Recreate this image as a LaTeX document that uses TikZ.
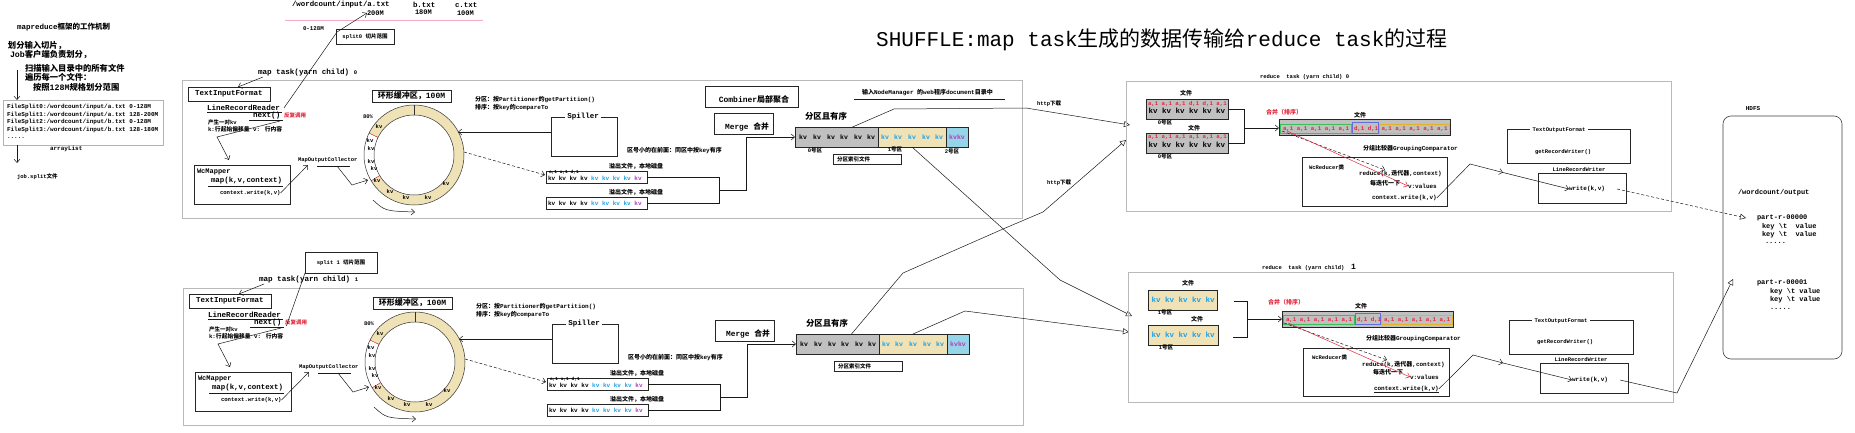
\documentclass[tikz,border=0pt]{standalone}
\usepackage{fontspec}
\setmainfont{Liberation Mono}
\newfontfamily\cjk{Noto Sans CJK SC}
\newcommand\zh[1]{{\cjk #1}}
\usetikzlibrary{arrows.meta}
\definecolor{ringtan}{RGB}{238,226,182}
\definecolor{kvblue}{RGB}{30,160,230}
\definecolor{kvpurple}{RGB}{180,60,190}
\definecolor{lblue}{RGB}{150,212,232}
\definecolor{pgray}{RGB}{192,192,192}
\definecolor{redt}{RGB}{225,40,60}
\definecolor{pinkl}{RGB}{245,170,200}
\definecolor{greenb}{RGB}{60,190,90}
\definecolor{blueb}{RGB}{100,110,220}
\definecolor{yellowb}{RGB}{225,180,40}
\newcommand\rbox[6]{\node[#6,inner sep=0pt,outer sep=0pt,minimum width={#4-#2},minimum height={#5-#3}] (#1) at ({(#2+#4)/2},{(#3+#5)/2}) {};}
\tikzset{
  lab/.style={font=\bfseries\fontsize{#1}{#1}\selectfont, inner sep=0pt, outer sep=0pt, anchor=west},
  labc/.style={font=\bfseries\fontsize{#1}{#1}\selectfont, inner sep=0pt, outer sep=0pt},
  ln/.style={draw=gray!20!black, line width=0.5pt},
  arr/.style={ln, -{Straight Barb[length=3.5pt,width=6pt]}},
  tarr/.style={ln, -{Triangle[open,length=6pt,width=6pt]}},
  bx/.style={draw=gray!30!black, line width=0.6pt},
  bigbx/.style={draw=gray!55, line width=1pt},
}
\newcommand\maptask[2]{%
\rbox{mt#1}{182}{81}{1022}{218}{bigbx}
\node[lab=7.6] (mtl#1) at (258,73) {map task(yarn child) {\fontsize{5.5}{5.5}\selectfont #2}};
\rbox{tif#1}{188}{87}{270}{101}{bx}
\node[labc=7.5] (tift#1) at (tif#1) {TextInputFormat};
\draw[arr] (263,77) -- (238,87);
\node[lab=7.6] (lrr#1) at (207,108) {LineRecordReader};
\draw[ln] (207,112.5) -- (282,112.5);
\node[lab=7.6] (nx#1) at (253,116) {next()};
\draw[ln] (249,120.5) -- (283,120.5);
\node[lab=5.5,text=redt] (ff#1) at (284,115) {\zh{反复调用}};
\node[lab=5.5] (kva#1) at (208,122) {\zh{产生一对}kv};
\node[lab=5.8] (kvb#1) at (208,129) {k:\zh{行起始偏移量} v: \zh{行内容}};
\rbox{wm#1}{194}{165}{290}{204}{bx}
\node[lab=7] (wmt#1) at (197,172) {WcMapper};
\node[lab=7.4] (wmm#1) at (211,181) {map(k,v,context)};
\draw[ln] (208,186) -- (283,186);
\node[lab=5.6] (wmc#1) at (220,193) {context.write(k,v)};
\coordinate (bk#1) at (217,137);
\draw[arr] (280,121) -- (bk#1) -- (229,160);
\node[lab=5.5] (moc#1) at (298,160) {MapOutputCollector};
\draw[arr] (wmc#1.east) -- (308,165);
\draw[ln] (317,166) -- (350,166);
\draw[arr] (337,166) -- (352,185) -- (368,180);
% ring buffer
\coordinate (rc#1) at (414,155);
\begin{scope}[shift={(rc#1)}]
  \fill[ringtan,even odd rule] (0,0) circle[radius=50] (0,0) circle[radius=40];
  \fill[white] (149:50) arc[start angle=149,end angle=206,radius=50] -- (206:40) arc[start angle=206,end angle=149,radius=40] -- cycle;
  \draw[gray!40!black, line width=0.5pt] (0,0) circle[radius=50] (0,0) circle[radius=40];
  \draw[red!80!black, line width=0.4pt] (149:40) -- (149:50) (206:40) -- (206:50);
  \draw[gray!40!black, line width=0.5pt] (270:40) -- (270:50);
  \foreach \dx/\dy [count=\i] in {-35/-28,-44/-14,-43/-6,-43/7,-40/14,-37/26,-24/37,-8/43,14/43,32/29}
    \node[labc=5.5] (rk#1\i) at (\dx,\dy) {kv};
\end{scope}
\rbox{rb#1}{372}{90}{451}{102}{bx}
\node[labc=8] (rbt#1) at (rb#1) {\zh{环形缓冲区，}100M};
\node[labc=5.5] (p80#1) at (368,117) {80\%};
\draw[arr] (373,200) .. controls (385,211) .. (415,212);
\node[lab=6] (pa#1) at (475,100) {\zh{分区：按}Partitioner\zh{的}getPartition()};
\node[lab=6] (pb#1) at (475,108) {\zh{排序：按}key\zh{的}compareTo};
\rbox{spl#1}{551}{117}{617}{156}{bx}
\node[labc=7.5,fill=white,inner xsep=2pt] (splt#1) at (583,117) {Spiller};
\coordinate (sin#1) at (551,132);
\draw[arr] (sin#1) -- (458,132);
\draw[arr, densely dashed] (464,152) -- (545,175);
\node[lab=6] (qh#1) at (627,151) {\zh{区号小的在前面：同区中按}key\zh{有序}};
\node[lab=6] (yca#1) at (609,166) {\zh{溢出文件，本地磁盘}};
\rbox{sa#1}{546}{171}{647}{183}{bx}
\node[lab=4.5] (saa#1) at (549,172.5) {a,1 a,1 d,1};
\node[lab=6] (sak#1) at (548,178) {kv kv kv kv \textcolor{kvblue}{kv kv kv kv} \textcolor{kvpurple}{kv}};
\node[lab=6] (ycb#1) at (609,192) {\zh{溢出文件，本地磁盘}};
\rbox{sb#1}{546}{197}{647}{209}{bx}
\node[lab=6] (sbk#1) at (548,203) {kv kv kv kv \textcolor{kvblue}{kv kv kv kv} \textcolor{kvpurple}{kv}};
\draw[ln] (sa#1.east) -- (719,177) -- (719,203) -- (sb#1.east);
\rbox{mg#1}{714}{113}{773}{134}{bx}
\node[labc=7.8] (mgt#1) at (747,127) {Merge \zh{合并}};
\node[lab=8.4] (fq#1) at (805,116) {\zh{分区且有序}};
\rbox{pg#1}{795}{127}{878}{147}{bx,fill=pgray,line width=0.8pt}
\rbox{pt#1}{878}{127}{946}{147}{bx,fill=ringtan,line width=0.8pt}
\rbox{pb#1}{946}{127}{968}{147}{bx,fill=lblue,line width=0.8pt}
\foreach \x [count=\i] in {803,817,831,844,858,871} \node[labc=6.5] (pgk#1\i) at (\x,137) {kv};
\foreach \x [count=\i] in {885,898,912,926,939} \node[labc=6.5,text=kvblue] (ptk#1\i) at (\x,137) {kv};
\node[labc=6.5,text=kvpurple] (pbk#1) at (957,137) {kvkv};
\draw[arr] (719,190) -- (746,190) -- (746,137) -- (pg#1.west);
\rbox{idx#1}{833}{154}{901}{164}{bx}
\node[lab=5.5] (idxt#1) at (837,159) {\zh{分区索引文件}};
}
\begin{document}
\begin{tikzpicture}[x=1pt,y=-1pt]
\useasboundingbox (0,0) rectangle (1855,433);
\fill[white] (0,0) rectangle (1855,433);
% ---------- left column
\node[lab=7.5] (mrt) at (17,27) {mapreduce\zh{框架的工作机制}};
\node[lab=8.3] (la) at (8,46) {\zh{划分输入切片，}};
\node[lab=8.3] (lb) at (10,55) {Job\zh{客户端负责划分，}};
\node[lab=8.3] (lc) at (25,68) {\zh{扫描输入目录中的所有文件}};
\node[lab=8.3] (ld) at (25,77) {\zh{遍历每一个文件：}};
\node[lab=8.3] (le) at (33,87) {\zh{按照}128M\zh{规格划分范围}};
\rbox{splits}{3}{100}{163}{145}{draw=gray!60,line width=0.8pt}
\coordinate (sqa) at (17,70);
\draw[arr] (sqa) -- (sqa |- splits.north);
\node[lab=6] (fs0) at (7,107) {FileSplit0:/wordcount/input/a.txt 0-128M};
\node[lab=6] (fs1) at (7,114.5) {FileSplit1:/wordcount/input/a.txt 128-200M};
\node[lab=6] (fs2) at (7,122) {FileSplit2:/wordcount/input/b.txt 0-128M};
\node[lab=6] (fs3) at (7,129.5) {FileSplit3:/wordcount/input/b.txt 128-180M};
\node[lab=6] (fs4) at (7,138) {.....};
\node[lab=6] (al) at (50,149) {arrayList};
\coordinate (sqb) at (17,163);
\draw[arr] (splits.south -| sqb) -- (sqb);
\node[lab=5.5] (js) at (17,177) {job.split\zh{文件}};
% ---------- input files
\draw[pinkl, line width=0.8pt] (285,20) -- (483,20);
\node[lab=7.4] (fa) at (292,5) {/wordcount/input/a.txt};
\node[lab=7] (fa2) at (367,13) {200M};
\node[lab=7.4] (fb) at (413,5) {b.txt};
\node[lab=7] (fb2) at (415,12.5) {180M};
\node[lab=7.4] (fc) at (455,5) {c.txt};
\node[lab=7] (fc2) at (457,13) {100M};
\node[lab=5.8] (r0) at (303,29) {0-128M};
\rbox{spz}{336}{29}{394}{44}{bx}
\node[labc=5.5] (spzt) at (spz) {split0 \zh{切片范围}};
\rbox{spo}{305}{252}{377}{273}{bx}
\node[labc=5.5] (spot) at (spo) {split 1 \zh{切片范围}};
% ---------- title
\node[anchor=west,inner sep=0pt,font=\fontsize{21}{21}\selectfont] (title) at (876,40) {SHUFFLE:map task\zh{生成的数据传输给}reduce task\zh{的过程}};
% ---------- map tasks
\maptask{a}{0}
\begin{scope}[shift={(1,207)}]
\maptask{b}{1}
\end{scope}
\coordinate (kka) at (337,32);
\draw[arr] ([xshift=4pt]lrra.east) -- (kka) -- (fa2.west);
\draw[ln] ([xshift=5pt,yshift=-3pt]nxb.east) -- (spo.south west);
\rbox{cmb}{705}{86}{798}{107}{bx}
\node[labc=8] (cmbt) at (754,99) {Combiner\zh{局部聚合}};
\node[labc=5.5] (z0) at (815,150.5) {0\zh{号区}};
\node[labc=5.5] (z1) at (895,149) {1\zh{号区}};
\node[labc=5.5] (z2) at (952,151.5) {2\zh{号区}};
\node[lab=6] (nm) at (862,93) {\zh{输入}NodeManager \zh{的}web\zh{程序}document\zh{目录中}};
\draw[ln] (854,99.5) -- (1005,99.5);
% ---------- http lines
\node[lab=5.5] (httpa) at (1037,104) {http\zh{下载}};
\node[lab=5.5] (httpb) at (1047,183) {http\zh{下载}};
\draw[tarr] ([xshift=16pt]pga.north) -- (894,109) -- (1026,108) -- (1130,125);
\draw[tarr] (pta.south) -- (1060,280) -- (1132,316);
\draw[tarr] ([xshift=14pt]pgb.north) -- (903,273) -- (1003,229) -- (1043,212) -- (1126,140);
\draw[tarr] (ptb.north) -- (965,311) -- (1129,332);
% ---------- reduce task 0
\node[lab=5.5] (rla) at (1260,77) {reduce~~task (yarn child) 0};
\rbox{rta}{1126}{82}{1671}{211}{bigbx}
\node[labc=6] (rfaa) at (1186,93) {\zh{文件}};
\rbox{rfa}{1146}{99}{1228}{119}{bx,fill=pgray}
\node[lab=5.7,text=redt] (rfar) at (1148,103.5) {a,1 a,1 a,1 d,1 d,1 a,1};
\node[lab=7.5] (rfak) at (1148.5,110.5) {kv kv kv kv kv kv};
\node[labc=5.5] (rfal) at (1165,122.5) {0\zh{号区}};
\node[labc=6] (rfab) at (1194,128) {\zh{文件}};
\rbox{rfb}{1146}{133}{1228}{153}{bx,fill=pgray}
\node[lab=5.7,text=redt] (rfbr) at (1148,137.5) {a,1 a,1 a,1 a,1 a,1 a,1};
\node[lab=7.5] (rfbk) at (1148.5,144.5) {kv kv kv kv kv kv};
\node[labc=5.5] (rfbl) at (1165,156.5) {0\zh{号区}};
\draw[ln] (rfa.east) -- (1244,109) -- (1244,143) -- (rfb.east);
\rbox{rma}{1279}{120}{1450}{136}{draw=gray!30!black,line width=1pt,fill=pgray}
\draw[arr] (1244,128) -- (rma.west);
\node[lab=6,text=redt] (hba) at (1266,112) {\zh{合并（排序）}};
\node[labc=6] (rfac) at (1360,115) {\zh{文件}};
\rbox{rmga}{1280.5}{124}{1351}{133.5}{draw=greenb,line width=0.6pt}
\rbox{rmba}{1352}{122.5}{1378}{133.5}{draw=blueb,line width=0.6pt}
\rbox{rmya}{1379.5}{124}{1449}{133.5}{draw=yellowb,line width=0.6pt}
\node[lab=5.8,text=redt] (rmgat) at (1283,129) {a,1 a,1 a,1 a,1 a,1};
\node[lab=5.8,text=redt] (rmbat) at (1354,129) {d,1 d,1};
\node[lab=5.8,text=redt] (rmyat) at (1381.5,129) {a,1 a,1 a,1 a,1 a,1};
\node[lab=6] (gca) at (1363,149) {\zh{分组比较器}GroupingComparator};
\rbox{wra}{1302}{157}{1447}{206}{bx}
\node[lab=5.5] (wraa) at (1309,167) {WcReducer\zh{类}};
\node[lab=6] (wrab) at (1359,174) {reduce(k,\zh{迭代器},context)};
\node[lab=6] (wrac) at (1370,183) {\zh{每迭代一下}};
\node[lab=6] (wrad) at (1408,186) {v:values};
\node[lab=6] (wrae) at (1372,198) {context.write(k,v)};
\draw[arr,densely dashed] (1282,131) -- (1385,170);
\draw[arr,draw=redt] (1287,131) -- (wrad.west);
\rbox{tofa}{1507}{129}{1630}{163}{bx}
\node[labc=5.5,fill=white,inner xsep=3pt] (tofat) at (1559,130) {TextOutputFormat};
\node[lab=5.5] (tofag) at (1535,152) {getRecordWriter()};
\rbox{lrwa}{1538}{173}{1626}{203}{bx}
\node[labc=5.5] (lrwat) at (1579,169.5) {LineRecordWriter};
\node[lab=6] (lrwaw) at (1569,189) {write(k,v)};
\coordinate (cqa) at (1470,164);
\coordinate (cma) at (1503,172.5);
\draw[arr] (wrae.east) -- (cqa) -- (cma);
\draw[arr] (cma) -- (lrwaw.west);
% ---------- reduce task 1
\node[lab=5.5] (rlb) at (1262,267) {reduce~~task (yarn child)~~{\fontsize{8}{8}\selectfont 1}};
\rbox{rtb}{1128}{272}{1673}{402}{bigbx}
\node[labc=6] (rfba) at (1188,283) {\zh{文件}};
\rbox{rfc}{1148}{290}{1217}{310}{bx,fill=ringtan}
\node[lab=7.5,text=kvblue] (rfck) at (1151.5,300) {kv kv kv kv kv};
\node[labc=5.5] (rfcl) at (1165,312.5) {1\zh{号区}};
\node[labc=6] (rfbb) at (1197,319) {\zh{文件}};
\rbox{rfd}{1148}{325}{1218}{345}{bx,fill=ringtan}
\node[lab=7.5,text=kvblue] (rfdk) at (1151.5,335) {kv kv kv kv kv};
\node[labc=5.5] (rfdl) at (1166,347.5) {1\zh{号区}};
\draw[ln] (1234,301) -- (1247,301) -- (1247,337) -- (1233,337);
\rbox{rmb}{1282}{311}{1453}{327}{draw=gray!30!black,line width=1pt,fill=pgray}
\draw[arr] (1247,319) -- (rmb.west);
\node[lab=6,text=redt] (hbb) at (1268,302) {\zh{合并（排序）}};
\node[labc=6] (rfbc) at (1361,306) {\zh{文件}};
\rbox{rmgb}{1283.5}{315}{1354}{324.5}{draw=greenb,line width=0.6pt}
\rbox{rmbb}{1355}{313.5}{1380}{324.5}{draw=blueb,line width=0.6pt}
\rbox{rmyb}{1381.5}{315}{1452}{324.5}{draw=yellowb,line width=0.6pt}
\node[lab=5.8,text=redt] (rmgbt) at (1286,320) {a,1 a,1 a,1 a,1 a,1};
\node[lab=5.8,text=redt] (rmbbt) at (1357,320) {d,1 d,1};
\node[lab=5.8,text=redt] (rmybt) at (1384,320) {a,1 a,1 a,1 a,1 a,1};
\node[lab=6] (gcb) at (1366,339) {\zh{分组比较器}GroupingComparator};
\rbox{wrb}{1303}{348}{1449}{396}{bx}
\node[lab=5.5] (wrba) at (1312,357) {WcReducer\zh{类}};
\node[lab=6] (wrbb) at (1362,365) {reduce(k,\zh{迭代器},context)};
\node[lab=6] (wrbc) at (1373,372) {\zh{每迭代一下}};
\node[lab=6] (wrbd) at (1410,377) {v:values};
\node[lab=6] (wrbe) at (1374,389) {context.write(k,v)};
\draw[ln] (1374,392.5) -- (1439,392.5);
\draw[arr,densely dashed] (1284,323) -- (1387,360);
\draw[arr,draw=redt] (1288,323) -- (wrbd.west);
\rbox{tofb}{1509}{320}{1633}{354}{bx}
\node[labc=5.5,fill=white,inner xsep=3pt] (tofbt) at (1561,321) {TextOutputFormat};
\node[lab=5.5] (tofbg) at (1537,342) {getRecordWriter()};
\rbox{lrwb}{1540}{363}{1628}{393}{bx}
\node[labc=5.5] (lrwbt) at (1581,360) {LineRecordWriter};
\node[lab=6] (lrwbw) at (1572,380) {write(k,v)};
\coordinate (cqb) at (1473,355);
\coordinate (cmb) at (1503,363);
\draw[arr] (wrbe.east) -- (cqb) -- (cmb);
\draw[arr] (cmb) -- (lrwbw.west);
% ---------- HDFS
\node[labc=6] (hdfs) at (1753,109) {HDFS};
\rbox{hd}{1723}{116}{1842}{359}{draw=gray!50!black,line width=0.6pt,rounded corners=8pt}
\node[lab=7] (hout) at (1738,193) {/wordcount/output};
\node[lab=7] (hp0) at (1757,218) {part-r-00000};
\node[lab=7] (hp0a) at (1762,227) {key \textbackslash t~~value};
\node[lab=7] (hp0b) at (1762,234.5) {key \textbackslash t~~value};
\node[lab=7] (hp0c) at (1765,243) {.....};
\node[lab=7] (hp1) at (1757,283) {part-r-00001};
\node[lab=7] (hp1a) at (1770,292) {key \textbackslash t value};
\node[lab=7] (hp1b) at (1770,300) {key \textbackslash t value};
\node[lab=7] (hp1c) at (1770,309) {.....};
\coordinate (hin0) at (1746,218);
\coordinate (hin1) at (1733,279);
\draw[tarr,densely dashed] ([xshift=12pt]lrwaw.east) -- (hin0);
\draw[tarr] ([xshift=12pt]lrwbw.east) -- (1677,393) -- (hin1);
\end{tikzpicture}
\end{document}
